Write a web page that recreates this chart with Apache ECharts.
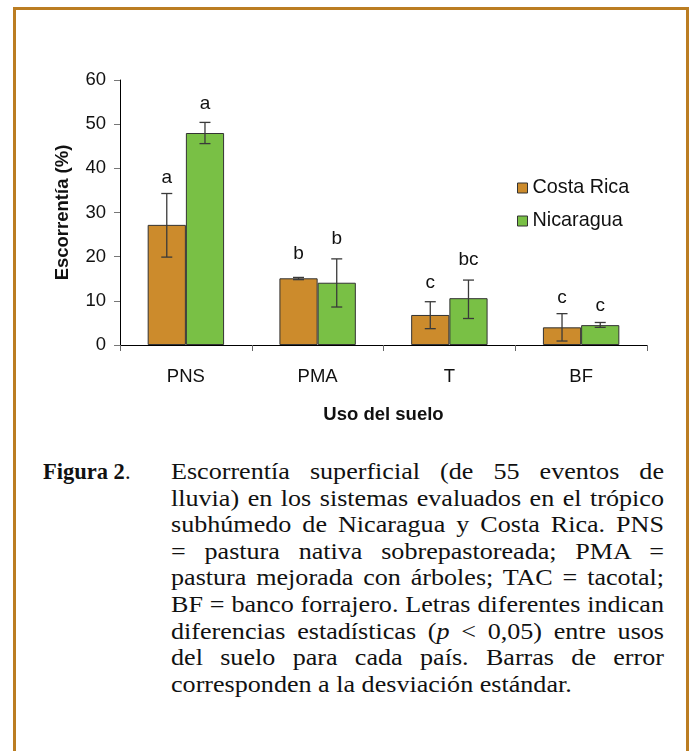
<!DOCTYPE html>
<html>
<head>
<meta charset="utf-8">
<script src="https://cdn.jsdelivr.net/npm/echarts@6/dist/echarts.min.js"></script>
<style>
  html, body { margin:0; padding:0; background:#fff; }
  #wrap { position:relative; width:691px; height:751px; overflow:hidden; background:#fff; }
  #frame { position:absolute; left:13px; top:7px; width:670px; height:760px; border:3px solid #bb7d22; border-bottom:none; box-sizing:content-box; }
  #chart { position:absolute; left:0; top:0; width:691px; height:440px; }
  .cap { position:absolute; font-family:'Liberation Serif','Times New Roman',serif; font-size:22.5px; line-height:26.6px; color:#111; }
  #figlabel { left:43px; top:459px; font-weight:bold; }
  #captext { left:171px; top:459px; width:425px; transform:scaleX(1.16); transform-origin:0 0; }
  #captext div { text-align:justify; text-align-last:justify; white-space:nowrap; }
  #captext div.last { text-align:left; text-align-last:left; }
</style>
</head>
<body>
<div id="wrap">
  <div id="frame"></div>
  <div id="chart"></div>
  <div class="cap" id="figlabel">Figura 2<span style="font-weight:normal">.</span></div>
  <div class="cap" id="captext">
    <div>Escorrentía superficial (de 55 eventos de</div>
    <div>lluvia) en los sistemas evaluados en el trópico</div>
    <div>subhúmedo de Nicaragua y Costa Rica. PNS</div>
    <div>= pastura nativa sobrepastoreada; PMA =</div>
    <div>pastura mejorada con árboles; TAC = tacotal;</div>
    <div>BF = banco forrajero. Letras diferentes indican</div>
    <div>diferencias estadísticas (<i>p</i> &lt; 0,05) entre usos</div>
    <div>del suelo para cada país. Barras de error</div>
    <div class="last">corresponden a la desviación estándar.</div>
  </div>
</div>
<script>
const categories = ['PNS', 'PMA', 'T', 'BF'];
const yTicks = [0, 10, 20, 30, 40, 50, 60];

const costaRica = [27.2, 15.1, 6.8, 4.0];
const costaRicaErrLow = [19.9, 14.8, 3.7, 0.9];
const costaRicaErrHigh = [34.3, 15.3, 9.8, 7.1];
const costaRicaLetters = ['a', 'b', 'c', 'c'];
const costaRicaLetterAt = [37.8, 20.6, 14.0, 10.7];

const nicaragua = [48.0, 14.1, 10.6, 4.5];
const nicaraguaErrLow = [45.6, 8.6, 6.0, 4.0];
const nicaraguaErrHigh = [50.4, 19.5, 14.7, 5.1];
const nicaraguaLetters = ['a', 'b', 'bc', 'c'];
const nicaraguaLetterAt = [54.7, 24.0, 19.2, 8.9];

const CAT_GAP = 0.42;
const FONT = "'Liberation Sans', Arial, sans-serif";

function errSeries(name, side, low, high, letters, letterAt) {
  return {
    type: 'custom',
    name: name + ' err',
    z: 10,
    silent: true,
    data: categories.map((c, i) => [i, low[i], high[i], letterAt[i]]),
    renderItem: function (params, api) {
      const i = api.value(0);
      const band = api.size([1, 0])[0];
      const barW = band * (1 - CAT_GAP) / 2;
      const x = api.coord([i, 0])[0] + side * barW / 2;
      const yL = api.coord([i, api.value(1)])[1];
      const yH = api.coord([i, api.value(2)])[1];
      const yT = api.coord([i, api.value(3)])[1];
      const cap = 5.5;
      const st = { stroke: '#3a3a3a', lineWidth: 1.3 };
      return {
        type: 'group',
        children: [
          { type: 'line', shape: { x1: x, y1: yL, x2: x, y2: yH }, style: st },
          { type: 'line', shape: { x1: x - cap, y1: yH, x2: x + cap, y2: yH }, style: st },
          { type: 'line', shape: { x1: x - cap, y1: yL, x2: x + cap, y2: yL }, style: st },
          { type: 'text', style: { text: letters[params.dataIndex], x: x, y: yT, align: 'center', verticalAlign: 'middle', font: '19px ' + FONT, fill: '#111' } }
        ]
      };
    }
  };
}

const chart = echarts.init(document.getElementById('chart'), null, { renderer: 'canvas' });
chart.setOption({
  animation: false,
  backgroundColor: 'transparent',
  textStyle: { fontFamily: FONT },
  grid: { left: 120, right: 44, top: 80, height: 265, containLabel: false },
  legend: {
    data: ['Costa Rica', 'Nicaragua'],
    orient: 'vertical',
    left: 517,
    top: 178,
    padding: 0,
    itemWidth: 10,
    itemHeight: 10,
    itemGap: 13,
    icon: 'rect',
    itemStyle: { borderColor: '#333', borderWidth: 1 },
    textStyle: { fontSize: 19.8, color: '#111', fontFamily: FONT }
  },
  xAxis: {
    type: 'category',
    data: categories,
    boundaryGap: true,
    axisLine: { lineStyle: { color: '#000', width: 1 } },
    axisTick: { show: true, length: 6, lineStyle: { color: '#666' } },
    axisLabel: { fontSize: 18.5, color: '#111', margin: 22, fontFamily: FONT },
    name: 'Uso del suelo',
    nameLocation: 'middle',
    nameGap: 60,
    nameTextStyle: { fontSize: 18.5, fontWeight: 'bold', color: '#111', fontFamily: FONT }
  },
  yAxis: {
    type: 'value',
    min: 0,
    max: 60,
    interval: 10,
    splitLine: { show: false },
    axisLine: { show: true, lineStyle: { color: '#000', width: 1 } },
    axisTick: { show: true, length: 6, lineStyle: { color: '#777' } },
    axisLabel: { fontSize: 18.5, color: '#111', margin: 14, fontFamily: FONT,
      formatter: v => (yTicks.indexOf(v) >= 0 ? String(v) : '') },
    name: 'Escorrentía (%)',
    nameLocation: 'middle',
    nameGap: 48,
    nameTextStyle: { fontSize: 18.5, fontWeight: 'bold', color: '#111', fontFamily: FONT }
  },
  series: [
    {
      name: 'Costa Rica', type: 'bar', data: costaRica,
      barGap: '0%', barCategoryGap: (CAT_GAP * 100) + '%',
      itemStyle: { color: '#cc8b2c', borderColor: '#333', borderWidth: 1 }
    },
    {
      name: 'Nicaragua', type: 'bar', data: nicaragua,
      barGap: '0%', barCategoryGap: (CAT_GAP * 100) + '%',
      itemStyle: { color: '#79c045', borderColor: '#333', borderWidth: 1 }
    },
    errSeries('Costa Rica', -1, costaRicaErrLow, costaRicaErrHigh, costaRicaLetters, costaRicaLetterAt),
    errSeries('Nicaragua', 1, nicaraguaErrLow, nicaraguaErrHigh, nicaraguaLetters, nicaraguaLetterAt)
  ]
});
</script>
</body>
</html>
